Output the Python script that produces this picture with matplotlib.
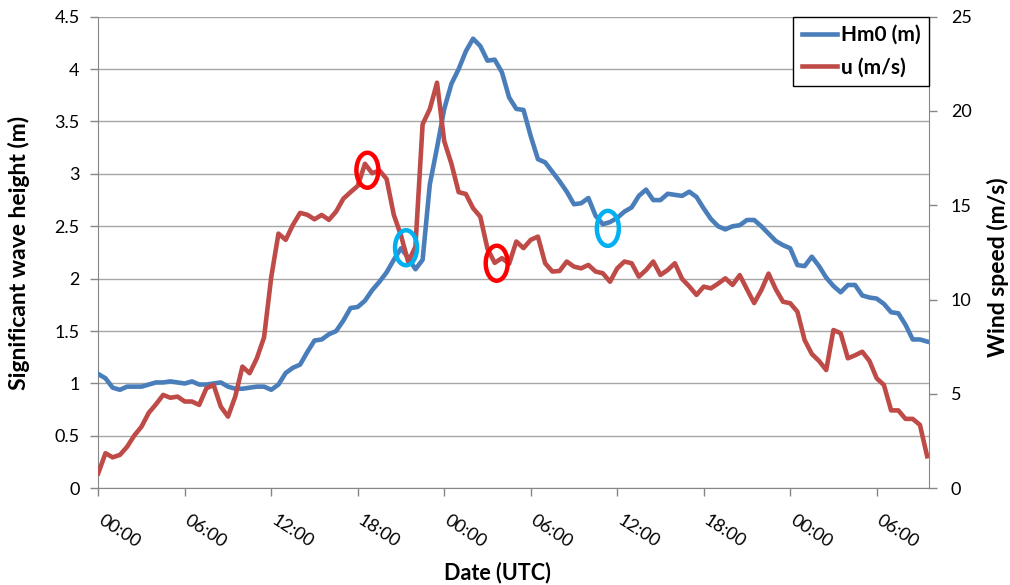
import matplotlib
matplotlib.use("Agg")
import matplotlib.pyplot as plt
from matplotlib.patches import Ellipse
from matplotlib.lines import Line2D
import matplotlib.transforms as mtrans
import numpy as np

plt.rcParams['font.family'] = ['Lato', 'DejaVu Sans']

# time in hours since first 00:00 (half-hourly samples)
hours = np.arange(0, 58, 0.5)

hm0 = [1.09, 1.05, 0.96, 0.94, 0.97, 0.97, 0.97, 0.99, 1.01, 1.01,
       1.02, 1.01, 1.00, 1.02, 0.99, 0.99, 1.00, 1.01, 0.97, 0.95,
       0.95, 0.96, 0.97, 0.97, 0.94, 0.99, 1.10, 1.15, 1.18, 1.30,
       1.41, 1.42, 1.47, 1.50, 1.60, 1.72, 1.73, 1.79, 1.89, 1.97,
       2.06, 2.18, 2.29, 2.20, 2.09, 2.18, 2.90, 3.25, 3.62, 3.86,
       4.00, 4.17, 4.29, 4.22, 4.08, 4.09, 3.97, 3.73, 3.62, 3.61,
       3.36, 3.14, 3.11, 3.02, 2.93, 2.83, 2.71, 2.72, 2.77, 2.60,
       2.52, 2.54, 2.58, 2.64, 2.68, 2.79, 2.85, 2.75, 2.75, 2.81,
       2.80, 2.79, 2.83, 2.78, 2.67, 2.57, 2.50, 2.47, 2.50, 2.51,
       2.56, 2.56, 2.50, 2.43, 2.36, 2.32, 2.29, 2.13, 2.12, 2.21,
       2.12, 2.01, 1.93, 1.87, 1.94, 1.94, 1.84, 1.82, 1.81, 1.76,
       1.68, 1.67, 1.56, 1.42, 1.42, 1.40]

wind = [0.80, 1.86, 1.64, 1.77, 2.20, 2.80, 3.27, 4.00, 4.45, 4.95,
        4.80, 4.86, 4.60, 4.60, 4.42, 5.30, 5.48, 4.33, 3.80, 4.86,
        6.45, 6.10, 6.89, 8.00, 11.2, 13.5, 13.17, 13.96, 14.6, 14.5,
        14.26, 14.49, 14.23, 14.67, 15.35, 15.7, 16.03, 17.2, 16.7, 16.85,
        16.4, 14.5, 13.4, 12.0, 12.8, 19.3, 20.1, 21.5, 18.4, 17.2,
        15.7, 15.6, 14.85, 14.4, 12.7, 11.95, 12.2, 11.9, 13.08, 12.73,
        13.17, 13.34, 11.93, 11.49, 11.52, 12.02, 11.75, 11.66, 11.84, 11.49,
        11.4, 10.95, 11.66, 12.02, 11.93, 11.22, 11.57, 12.02, 11.31, 11.57,
        11.93, 11.1, 10.7, 10.25, 10.69, 10.6, 10.85, 11.13, 10.78, 11.3,
        10.55, 9.82, 10.51, 11.38, 10.55, 9.89, 9.81, 9.36, 7.86, 7.12,
        6.75, 6.27, 8.39, 8.22, 6.89, 7.05, 7.24, 6.75, 5.83, 5.48,
        4.13, 4.13, 3.68, 3.68, 3.36, 1.70]

xtick_hours = [0, 6, 12, 18, 24, 30, 36, 42, 48, 54]
xtick_labels = ['00:00', '06:00', '12:00', '18:00', '00:00', '06:00',
                '12:00', '18:00', '00:00', '06:00']
left_ticks = [0, 0.5, 1, 1.5, 2, 2.5, 3, 3.5, 4, 4.5]
left_labels = ['0', '0.5', '1', '1.5', '2', '2.5', '3', '3.5', '4', '4.5']
right_ticks = [0, 5, 10, 15, 20, 25]
right_labels = ['0', '5', '10', '15', '20', '25']

# highlighted points: (hour, value)
marks_hm0 = [(21.35, 2.295), (35.35, 2.48)]
marks_wind = [(18.67, 16.86), (27.64, 11.93)]

BLUE = '#4A7EBB'
RED = '#BE4B48'
GRID = '#A6A6A6'
AXC = '#868686'
LW = 3.3

fig = plt.figure(figsize=(10.10, 5.85), dpi=100)
ax = fig.add_axes([0.0973, 0.1653, 0.8228, 0.8062])
ax2 = ax.twinx()

ax.plot(hours, hm0, color=BLUE, lw=LW, solid_joinstyle='round', zorder=3)
ax2.plot(hours, wind, color=RED, lw=LW, solid_joinstyle='round', zorder=3)

ax.set_xlim(0, 57.65)
ax.set_ylim(0, 4.5)
ax2.set_ylim(0, 25)

ax.set_yticks(left_ticks)
ax.set_yticklabels(left_labels, fontsize=13)
ax2.set_yticks(right_ticks)
ax2.set_yticklabels(right_labels, fontsize=13)
ax.set_xticks(xtick_hours)
ax.set_xticklabels([])

ax.yaxis.grid(True, color=GRID, lw=1.0)
ax.set_axisbelow(True)

for a in (ax, ax2):
    for s in a.spines.values():
        s.set_visible(False)
ax.spines['left'].set_visible(True)
ax.spines['left'].set_color(AXC)
ax.spines['bottom'].set_visible(True)
ax.spines['bottom'].set_color(AXC)
ax2.spines['right'].set_visible(True)
ax2.spines['right'].set_color(AXC)

ax.tick_params(axis='y', length=5.5, color=AXC, width=1, pad=8)
ax.tick_params(axis='x', length=5.5, color=AXC, width=1)
ax2.tick_params(axis='y', length=5.5, color=AXC, width=1, pad=10)

# rotated x tick labels
off = mtrans.ScaledTranslation(6 / 100, -24 / 100, fig.dpi_scale_trans)
btrans = mtrans.blended_transform_factory(ax.transData, ax.transAxes) + off
for h, lab in zip(xtick_hours, xtick_labels):
    ax.text(h, 0, lab, transform=btrans, rotation=-33, rotation_mode='anchor',
            ha='left', va='top', fontsize=13)

# highlight ellipses
ew = 22 / 14.415
eh = 35 / 18.864
for (h, v) in marks_hm0:
    ax2.add_patch(Ellipse((h, v * 25 / 4.5), ew, eh, fill=False,
                          ec='#00B0F0', lw=3.2, zorder=5))
for (h, v) in marks_wind:
    ax2.add_patch(Ellipse((h, v), ew, eh, fill=False,
                          ec='#FF0000', lw=3.2, zorder=5))

# axis titles
fig.text(19 / 1010, 1 - 252.5 / 585, 'Significant wave height (m)', rotation=90,
         ha='center', va='center', fontsize=16.5, fontweight='bold')
fig.text(998 / 1010, 1 - 267 / 585, 'Wind speed (m/s)', rotation=90,
         ha='center', va='center', fontsize=16.5, fontweight='bold')
fig.text(497 / 1010, 1 - 573 / 585, 'Date (UTC)', ha='center', va='center',
         fontsize=15.5, fontweight='bold')

handles = [Line2D([], [], color=BLUE, lw=LW), Line2D([], [], color=RED, lw=LW)]
leg = ax2.legend(handles, ['Hm0 (m)', 'u (m/s)'], loc='upper right',
                 bbox_to_anchor=(929.3 / 1010, 1 - 16.7 / 585),
                 bbox_transform=fig.transFigure, fancybox=False, framealpha=1,
                 edgecolor='#000000', prop={'size': 15, 'weight': 'bold'},
                 handlelength=1.7, handletextpad=0.2, labelspacing=0.6,
                 borderpad=0.4, borderaxespad=0)
leg.get_frame().set_linewidth(1.0)
leg.set_zorder(10)

fig.savefig('out.png', dpi=100)
